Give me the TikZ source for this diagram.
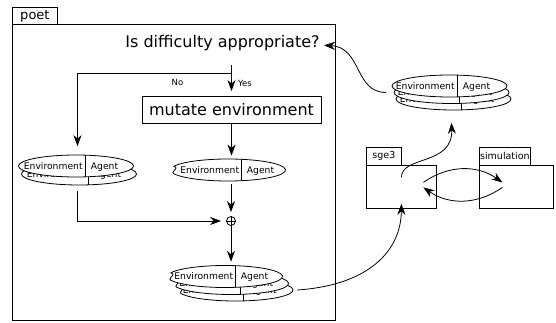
\documentclass[tikz,border=0pt]{standalone}
\usepackage{fontspec}
\setmainfont{DejaVu Sans}
\usetikzlibrary{arrows.meta,shapes.geometric,fit}
\tikzset{
  arr/.style={-{Stealth[length=11pt,width=8pt,inset=3.5pt]}},
  ell/.style={ellipse, draw, fill=white, minimum width=115pt, minimum height=22pt, inner sep=0pt},
  ghost/.style={ellipse, minimum width=115pt, minimum height=22pt, inner sep=0pt},
  lab/.style={font=\fontsize{9.2}{10}\selectfont, inner sep=0pt},
  tabbox/.style={draw, fill=white, anchor=north west, inner sep=0pt},
  ea/.pic={
    \node[ell] (-e) at (0,0) {};
    \begin{scope}
      \clip (0,0) ellipse [x radius=57.5pt, y radius=11pt];
      \draw (#1,-12) -- (#1,12);
    \end{scope}
    \node[lab, anchor=base east] (-env) at (#1-2,-3.3) {Environment};
    \node[lab, anchor=base west] (-ag) at (#1+5.5,-3.3) {Agent};
  },
  en/.pic={
    \node[ghost] (-e) at (0,0) {};
    \path[draw, fill=white] (160:57.5pt and 11pt)
      arc[start angle=160, end angle=-155, x radius=57.5pt, y radius=11pt]
      .. controls (-61,-2) and (-47,1) .. (160:57.5pt and 11pt) -- cycle;
    \begin{scope}
      \clip (0,0) ellipse [x radius=57.5pt, y radius=11pt];
      \draw (#1,-12) -- (#1,12);
    \end{scope}
    \node[lab, anchor=base east] (-env) at (#1-1.5,-3.3) {Environment};
    \node[lab, anchor=base west] (-ag) at (#1+5.5,-3.3) {Agent};
  }
}
\begin{document}
\begin{tikzpicture}[x=1pt, y=1pt, line width=0.8pt]
\fill[white] (0,0) rectangle (556,-323);
\useasboundingbox (0,0) rectangle (556,-323);

% poet frame
\node[tabbox, minimum width=323pt, minimum height=296pt] (frame) at (12,-24) {};
\node[tabbox, minimum width=45pt, minimum height=17pt, font=\fontsize{13}{15}\selectfont] (poettab) at (12,-7) {poet};

% question and mutate
\node[font=\fontsize{16}{19}\selectfont, inner ysep=0pt, inner xsep=4pt, text depth=17pt, anchor=base] (q) at (222.5,-48) {Is difficulty appropriate?};
\node[draw, minimum width=179pt, minimum height=27pt, inner sep=0pt, font=\fontsize{16}{19}\selectfont] (mut) at (231.5,-109.5) {mutate environment};

\node[font=\fontsize{8.5}{10}\selectfont, inner sep=0pt] (yes) at (245,-83.5) {Yes};
\node[font=\fontsize{8.5}{10}\selectfont, inner sep=0pt] (no) at (177.5,-82.5) {No};

% left stack
\pic (L2) at (79,-174) {ea=9};
\pic (L1) at (76,-166) {ea=9};
\node[fit=(L1-e)(L2-e), inner sep=0pt] (L) {};

% middle notched
\pic (M) at (228,-170) {en=13};

% plus
\node[circle, draw, minimum size=9pt, inner sep=0pt] (plus) at (231,-221) {};
\draw (plus.north) -- (plus.south) (plus.west) -- (plus.east);

% bottom stack
\pic (B3) at (235.5,-290) {en=8};
\pic (B2) at (231,-283.5) {en=9};
\pic (B1) at (225,-276.5) {en=10};
\node[fit=(B1-e)(B2-e)(B3-e), inner sep=0pt] (B) {};

% top right stack
\pic (T3) at (453.5,-99) {ea=7.5};
\pic (T2) at (451.5,-92.5) {ea=7.5};
\pic (T1) at (449.5,-86) {ea=7.5};
\node[fit=(T1-e)(T2-e)(T3-e), inner sep=0pt] (T) {};

% sge3 and simulation
\node[tabbox, minimum width=70pt, minimum height=43pt] (sg) at (366,-165) {};
\node[tabbox, minimum width=35pt, minimum height=18pt, font=\fontsize{9.5}{11}\selectfont] (sgtab) at (366,-147) {sge3};
\node[tabbox, minimum width=74pt, minimum height=43pt] (sm) at (479,-165) {};
\node[tabbox, minimum width=51pt, minimum height=18pt, font=\fontsize{9.5}{11}\selectfont] (smtab) at (479,-147) {simulation};

% connectors
\coordinate (br) at ([yshift=-8pt]q.south -| mut.north);
\draw[arr, shorten >=4.5pt] (q.south -| mut.north) -- (mut.north);
\draw[arr, shorten >=8pt] (br) -| (L.north);
\draw[arr, shorten >=3pt] (mut.south) -- (mut.south |- M-e.north);
\draw[arr, shorten <=5pt, shorten >=5pt] (L.south) |- (plus.west);
\draw[arr, shorten <=3pt, shorten >=4pt] (plus.north |- M-e.south) -- (plus.north);
\draw[arr, shorten >=3pt] (plus.south) -- (plus.south |- B.north);
\draw[arr] ([xshift=4pt]B3-e.east) .. controls (370,-285) and (401,-250) .. ([yshift=5pt]sg.south);
\draw[arr] ([yshift=9.5pt]sg.center) .. controls +(0,22) and +(1.5,-43) .. ([yshift=-12pt]T.south);
\draw[arr] ([xshift=-5pt]T.west) .. controls +(-32,0) and +(38,-2) .. (q.mid east);
\draw[arr] ([shift={(22pt,4.5pt)}]sg.center) to[bend left=35] ([shift={(-14pt,4.5pt)}]sm.center);
\draw[arr] ([shift={(-14pt,-0.5pt)}]sm.center) to[bend left=35] ([shift={(22pt,-0.5pt)}]sg.center);
\end{tikzpicture}
\end{document}
